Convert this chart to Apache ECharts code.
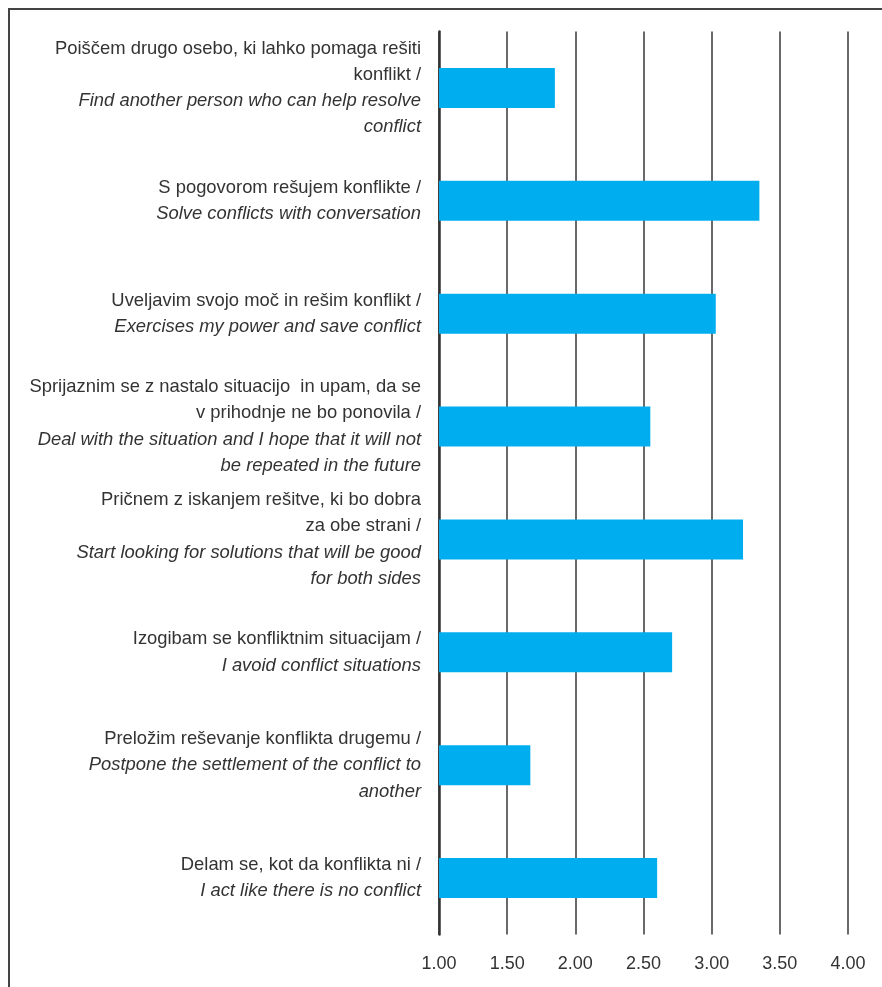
<!DOCTYPE html>
<html>
<head>
<meta charset="utf-8">
<script src="https://cdn.jsdelivr.net/npm/echarts@6/dist/echarts.min.js"></script>
<style>html,body{margin:0;padding:0;background:#fff;}#c{width:882px;height:987px;}</style>
</head>
<body>
<div id="c"></div>
<script>
const labelsSl = [
  "Poiščem drugo osebo, ki lahko pomaga rešiti\nkonflikt /",
  "S pogovorom rešujem konflikte /",
  "Uveljavim svojo moč in rešim konflikt /",
  "Sprijaznim se z nastalo situacijo  in upam, da se\nv prihodnje ne bo ponovila /",
  "Pričnem z iskanjem rešitve, ki bo dobra\nza obe strani /",
  "Izogibam se konfliktnim situacijam /",
  "Preložim reševanje konflikta drugemu /",
  "Delam se, kot da konflikta ni /"
];
const labelsEn = [
  "Find another person who can help resolve\nconflict",
  "Solve conflicts with conversation",
  "Exercises my power and save conflict",
  "Deal with the situation and I hope that it will not\nbe repeated in the future",
  "Start looking for solutions that will be good\nfor both sides",
  "I avoid conflict situations",
  "Postpone the settlement of the conflict to\nanother",
  "I act like there is no conflict"
];
const values = [1.85, 3.35, 3.03, 2.55, 3.23, 2.71, 1.67, 2.60];
const xTicks = [1.00, 1.50, 2.00, 2.50, 3.00, 3.50, 4.00];

const FONT = "'Liberation Sans', Arial, sans-serif";
const chart = echarts.init(document.getElementById('c'), null, {renderer: 'canvas'});
chart.setOption({
  animation: false,
  backgroundColor: '#fff',
  grid: {left: 439, right: 34, top: 31.5, bottom: 52.5, containLabel: false, outerBoundsMode: 'none'},
  xAxis: {
    type: 'value', min: xTicks[0], max: xTicks[xTicks.length - 1], interval: 0.5,
    axisLine: {show: false}, axisTick: {show: false},
    splitLine: {show: true, lineStyle: {color: '#444', width: 1.6}},
    axisLabel: {
      margin: 21, color: '#333', fontFamily: FONT, fontSize: 18,
      formatter: v => v.toFixed(2)
    }
  },
  yAxis: {
    type: 'category', inverse: true,
    data: labelsSl,
    axisLine: {show: true, lineStyle: {color: '#333', width: 2.5}},
    axisTick: {show: false},
    splitLine: {show: false},
    axisLabel: {
      margin: 18, align: 'right', fontFamily: FONT, fontSize: 18.4, color: '#333', lineHeight: 26.3,
      formatter: (v, i) => {
        const sl = v.split('\n').map(s => '{n|' + s + '}');
        const en = labelsEn[i].split('\n').map(s => '{i|' + s + '}');
        return sl.concat(en).join('\n');
      },
      rich: {
        n: {fontFamily: FONT, fontSize: 18.4, color: '#333', lineHeight: 26.3},
        i: {fontFamily: FONT, fontSize: 18.4, color: '#333', lineHeight: 26.3, fontStyle: 'italic'}
      }
    }
  },
  series: [{
    type: 'bar', data: values, barWidth: 40,
    itemStyle: {color: '#00AEEF'}
  }],
  graphic: [{
    type: 'polyline', silent: true,
    shape: {points: [[9, 987], [9, 9], [882, 9]]},
    style: {stroke: '#444', lineWidth: 2, fill: null}
  }]
});
</script>
</body>
</html>
